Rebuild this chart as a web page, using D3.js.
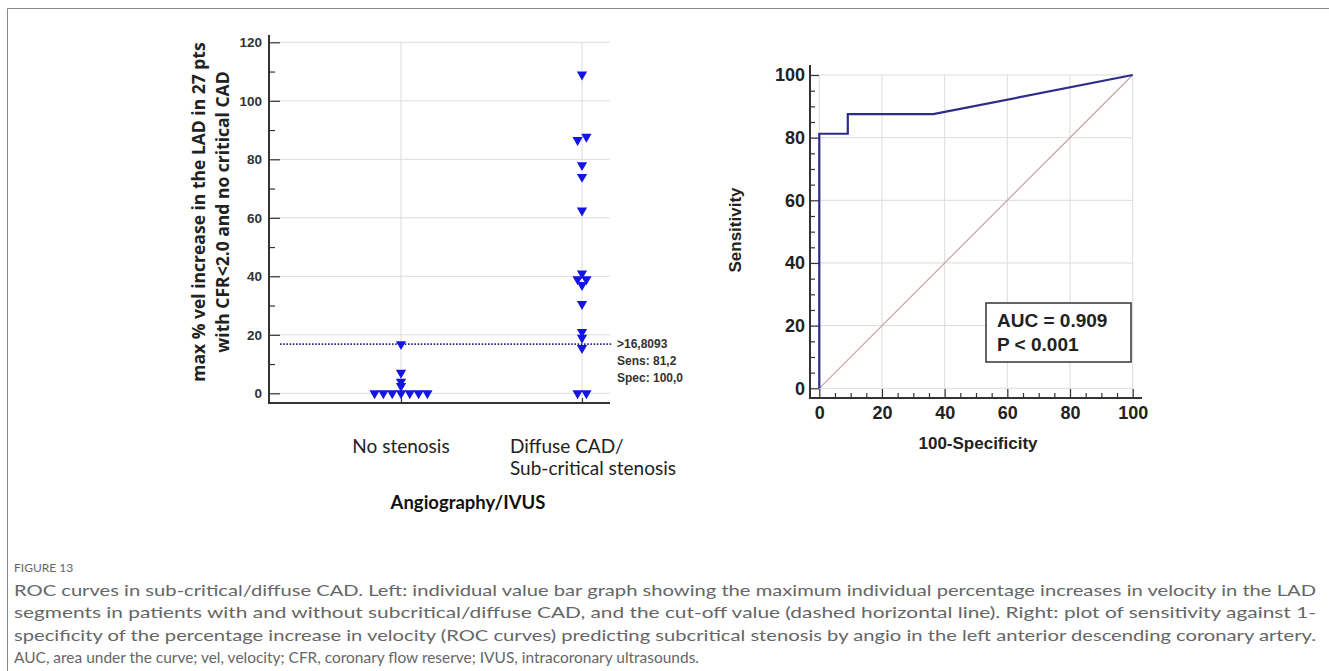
<!DOCTYPE html>
<html><head><meta charset="utf-8">
<script src="https://cdn.jsdelivr.net/npm/d3@7"></script>
<style>
html,body{margin:0;padding:0;background:#fff;}
svg{display:block;}
</style></head>
<body>
<svg id="c" width="1329" height="671"></svg>
<script>
// ---------- DATA ----------
const categories = ["No stenosis", "Diffuse CAD/\nSub-critical stenosis"];
const noStenosisValues = [0,0,0,0,0,0,0,2.5,4,7,16.8];
const diffuseValues = [0,0,15.5,19,21,30.5,37,39,39,41,62.5,74,78,86.6,87.7,109];
const leftYTicks = [0,20,40,60,80,100,120];
const cutoffValue = 16.8093;
const cutoffLabels = [">16,8093", "Sens: 81,2", "Spec: 100,0"];
const leftYLabel = ["max % vel increase in the LAD in 27 pts", "with CFR<2.0 and no critical CAD"];
const leftXTitle = "Angiography/IVUS";

const rocFPR = [0, 0, 9.09, 9.09, 36.36, 100];
const rocTPR = [0, 81.25, 81.25, 87.5, 87.5, 100];
const rocTicks = [0,20,40,60,80,100];
const aucLines = ["AUC = 0.909", "P < 0.001"];
const rocXLabel = "100-Specificity";
const rocYLabel = "Sensitivity";

const captionTitle = "FIGURE 13";
const captionLines = [
 "ROC curves in sub-critical/diffuse CAD. Left: individual value bar graph showing the maximum individual percentage increases in velocity in the LAD",
 "segments in patients with and without subcritical/diffuse CAD, and the cut-off value (dashed horizontal line). Right: plot of sensitivity against 1-",
 "specificity of the percentage increase in velocity (ROC curves) predicting subcritical stenosis by angio in the left anterior descending coronary artery.",
 "AUC, area under the curve; vel, velocity; CFR, coronary flow reserve; IVUS, intracoronary ultrasounds."
];

// ---------- DRAW ----------
const svg = d3.select("#c");
const gridCol = "#dcdcdc", axisCol = "#333";

// frame
svg.append("line").attr("x1",7.5).attr("x2",1329).attr("y1",8.5).attr("y2",8.5).attr("stroke","#888").attr("stroke-width",1);
svg.append("line").attr("x1",7.5).attr("x2",7.5).attr("y1",8.5).attr("y2",671).attr("stroke","#888").attr("stroke-width",1);

// ===== LEFT CHART =====
const L = {axX:269, axY:403, right:610, top:35};
const yL = d3.scaleLinear().domain([0,120]).range([393.3, 42.3]);
const xL = d3.scalePoint().domain(categories).range([401, 582]);
const gL = svg.append("g");

gL.selectAll(".hg").data(leftYTicks).join("line")
  .attr("x1", L.axX+3).attr("x2", L.right).attr("y1", d=>yL(d)).attr("y2", d=>yL(d))
  .attr("stroke", gridCol).attr("stroke-width",1);
gL.selectAll(".vg").data(categories).join("line")
  .attr("x1", d=>xL(d)).attr("x2", d=>xL(d)).attr("y1", yL(120)).attr("y2", L.axY)
  .attr("stroke", gridCol).attr("stroke-width",1);

const axL = d3.axisLeft(yL).tickValues(leftYTicks).tickSizeInner(-11).tickSizeOuter(0).tickPadding(7);
const gAxL = gL.append("g").attr("transform",`translate(${L.axX},0)`).call(axL);
gAxL.select(".domain").remove();
gAxL.selectAll(".tick line").attr("stroke", axisCol).attr("stroke-width",1.2);
gAxL.selectAll(".tick text").attr("font-family","Liberation Sans, Arial, sans-serif").attr("font-weight","bold").attr("font-size",13.5).attr("fill","#333");
const axLm = d3.axisLeft(yL).tickValues([10,30,50,70,90,110]).tickSizeInner(-6).tickSizeOuter(0).tickFormat("");
const gAxLm = gL.append("g").attr("transform",`translate(${L.axX},0)`).call(axLm);
gAxLm.select(".domain").remove();
gAxLm.selectAll(".tick line").attr("stroke", axisCol).attr("stroke-width",1.2);
const axLx = d3.axisBottom(xL).tickSizeInner(-5).tickSizeOuter(0).tickFormat("");
const gAxLx = gL.append("g").attr("transform",`translate(0,${L.axY})`).call(axLx);
gAxLx.select(".domain").remove();
gAxLx.selectAll(".tick line").attr("stroke", axisCol).attr("stroke-width",1.2);

gL.append("line").attr("x1",L.axX).attr("x2",L.axX).attr("y1",L.top).attr("y2",L.axY+1).attr("stroke",axisCol).attr("stroke-width",2);
gL.append("line").attr("x1",L.axX).attr("x2",L.right).attr("y1",L.axY).attr("y2",L.axY).attr("stroke",axisCol).attr("stroke-width",2);

gL.append("line").attr("x1",L.axX+11).attr("x2",L.right+2).attr("y1",yL(cutoffValue)).attr("y2",yL(cutoffValue))
  .attr("stroke","#2b2b8c").attr("stroke-width",1.6).attr("stroke-dasharray","1.6,1.6");
gL.selectAll(".cl").data(cutoffLabels).join("text")
  .attr("x", L.right+7).attr("y",(d,i)=>yL(cutoffValue)+4+i*17)
  .attr("font-family","Liberation Sans, Arial, sans-serif").attr("font-weight","bold").attr("font-size",12).attr("fill","#333")
  .text(d=>d);

function dodge(values, cat){
  const sorted = values.map(v=>({v, cat})).sort((a,b)=>a.v-b.v);
  const clusters = [];
  sorted.forEach(p=>{
    const last = clusters[clusters.length-1];
    if(last && Math.abs(yL(last[last.length-1].v)-yL(p.v))<3.6) last.push(p); else clusters.push([p]);
  });
  const out=[];
  clusters.forEach(cl=>cl.forEach((p,i)=>{p.off=(i-(cl.length-1)/2)*8.8; out.push(p);}));
  return out;
}
const pts = dodge(noStenosisValues, categories[0]).concat(dodge(diffuseValues, categories[1]));
const tri = d3.symbol().type(d3.symbolTriangle).size(46);
gL.selectAll(".pt").data(pts).join("path")
  .attr("d", tri)
  .attr("transform", d=>`translate(${xL(d.cat)+d.off},${yL(d.v)}) rotate(180)`)
  .attr("fill","#1414e6");

const catFont = "Lato, 'Open Sans', sans-serif";
categories.forEach(c=>{
  const lines = c.split("\n");
  const t = gL.append("text").attr("font-family",catFont).attr("font-size",19).attr("fill","#222");
  if(lines.length===1){
    t.attr("x", xL(c)).attr("y",453).attr("text-anchor","middle").text(lines[0]);
  } else {
    lines.forEach((ln,i)=>t.append("tspan").attr("x",510).attr("y",453+i*22).text(ln));
  }
});
gL.append("text").attr("x",468).attr("y",509).attr("text-anchor","middle")
  .attr("font-family",catFont).attr("font-weight","bold").attr("font-size",18.5).attr("fill","#111").text(leftXTitle);

leftYLabel.forEach((ln,i)=>{
  gL.append("text").attr("transform",`translate(${205+i*24},212) rotate(-90)`).attr("text-anchor","middle")
    .attr("font-family","'Open Sans', sans-serif").attr("font-weight","bold").attr("font-size",17.5).attr("fill","#222").text(ln);
});

// ===== RIGHT CHART (ROC) =====
const R = {axX:810, axY:398, top:65, right:1142};
const xR = d3.scaleLinear().domain([0,100]).range([819.3, 1132.7]);
const yR = d3.scaleLinear().domain([0,100]).range([388.3, 75]);
const gR = svg.append("g");
gR.selectAll(".rhg").data(rocTicks).join("line")
  .attr("x1",R.axX).attr("x2",xR(100)).attr("y1",d=>yR(d)).attr("y2",d=>yR(d)).attr("stroke",gridCol);
gR.selectAll(".rvg").data(rocTicks).join("line")
  .attr("x1",d=>xR(d)).attr("x2",d=>xR(d)).attr("y1",yR(100)).attr("y2",R.axY).attr("stroke",gridCol);

const rFont = "Liberation Sans, Arial, sans-serif";
const minor = d3.range(0,101,5).filter(v=>v%20!==0);
const axRy = d3.axisLeft(yR).tickValues(rocTicks).tickSizeInner(-9).tickSizeOuter(0).tickPadding(5);
const gRy = gR.append("g").attr("transform",`translate(${R.axX},0)`).call(axRy);
gRy.select(".domain").remove();
gRy.selectAll(".tick line").attr("stroke",axisCol).attr("stroke-width",1.2);
gRy.selectAll(".tick text").attr("font-family",rFont).attr("font-weight","bold").attr("font-size",18).attr("fill","#222");
const gRym = gR.append("g").attr("transform",`translate(${R.axX},0)`).call(d3.axisLeft(yR).tickValues(minor).tickSizeInner(-5).tickSizeOuter(0).tickFormat(""));
gRym.select(".domain").remove(); gRym.selectAll(".tick line").attr("stroke",axisCol).attr("stroke-width",1.2);

const axRx = d3.axisBottom(xR).tickValues(rocTicks).tickSizeInner(-9).tickSizeOuter(0).tickPadding(8);
const gRx = gR.append("g").attr("transform",`translate(0,${R.axY})`).call(axRx);
gRx.select(".domain").remove();
gRx.selectAll(".tick line").attr("stroke",axisCol).attr("stroke-width",1.2);
gRx.selectAll(".tick text").attr("font-family",rFont).attr("font-weight","bold").attr("font-size",18).attr("fill","#222");
const gRxm = gR.append("g").attr("transform",`translate(0,${R.axY})`).call(d3.axisBottom(xR).tickValues(minor).tickSizeInner(-5).tickSizeOuter(0).tickFormat(""));
gRxm.select(".domain").remove(); gRxm.selectAll(".tick line").attr("stroke",axisCol).attr("stroke-width",1.2);

gR.append("line").attr("x1",R.axX).attr("x2",R.axX).attr("y1",R.top).attr("y2",R.axY+1).attr("stroke",axisCol).attr("stroke-width",2);
gR.append("line").attr("x1",R.axX).attr("x2",R.right).attr("y1",R.axY).attr("y2",R.axY).attr("stroke",axisCol).attr("stroke-width",2);

gR.append("line").attr("x1",xR(0)).attr("y1",yR(0)).attr("x2",xR(100)).attr("y2",yR(100)).attr("stroke","#c9a3a6").attr("stroke-width",1.2);
const rocPts = rocFPR.map((f,i)=>[f, rocTPR[i]]);
gR.append("path").datum(rocPts)
  .attr("d", d3.line().x(d=>xR(d[0])).y(d=>yR(d[1])))
  .attr("fill","none").attr("stroke","#2c2c8a").attr("stroke-width",2.2);

gR.append("rect").attr("x",986).attr("y",303).attr("width",145).attr("height",59)
  .attr("fill","#fff").attr("stroke","#333").attr("stroke-width",1.5);
aucLines.forEach((t,i)=>gR.append("text").attr("x",997).attr("y",327+i*24)
  .attr("font-family",rFont).attr("font-weight","bold").attr("font-size",19).attr("fill","#222").text(t));

gR.append("text").attr("x",978).attr("y",449).attr("text-anchor","middle")
  .attr("font-family",rFont).attr("font-weight","bold").attr("font-size",17).attr("fill","#222").text(rocXLabel);
gR.append("text").attr("transform","translate(741,230) rotate(-90)").attr("text-anchor","middle")
  .attr("font-family",rFont).attr("font-weight","bold").attr("font-size",17).attr("fill","#222").text(rocYLabel);

// ===== CAPTION =====
const capFont = "Lato, 'Open Sans', sans-serif";
svg.append("text").attr("x",14).attr("y",572).attr("font-family",capFont).attr("font-size",12).attr("fill","#666").text(captionTitle);
captionLines.forEach((ln,i)=>{
  const t = svg.append("text").attr("x",14).attr("y",596+i*22.3)
    .attr("font-family",capFont).attr("font-size",15).attr("fill","#666").text(ln);
  if(i<captionLines.length-1) t.attr("textLength",1302).attr("lengthAdjust","spacingAndGlyphs");
  else t.attr("textLength",685).attr("lengthAdjust","spacingAndGlyphs");
});
</script>
</body></html>
